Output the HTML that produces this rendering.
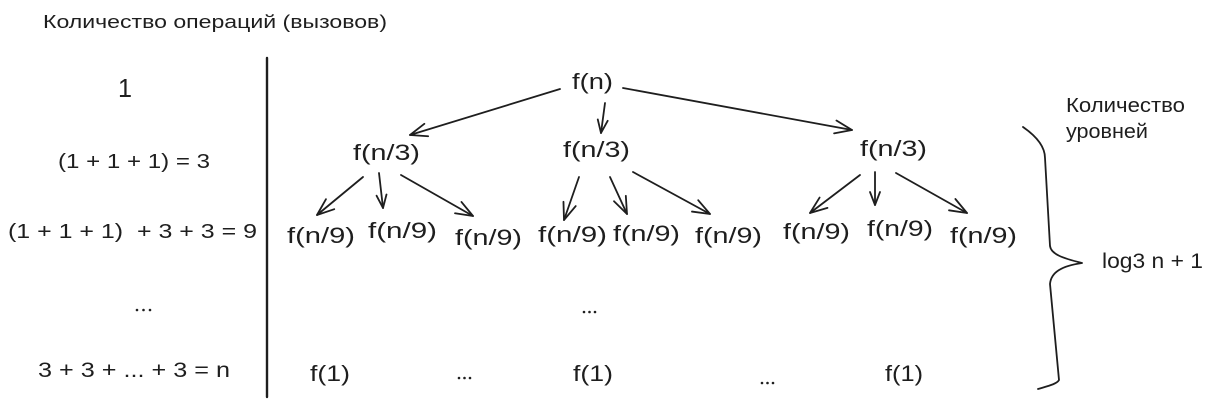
<!DOCTYPE html>
<html>
<head>
<meta charset="utf-8">
<style>
  html, body { margin: 0; padding: 0; background: #ffffff; }
  svg { display: block; }
  text { font-family: "Liberation Sans", "DejaVu Sans", sans-serif; fill: #1e1e1e; white-space: pre; }
</style>
</head>
<body>
<svg width="1213" height="404" viewBox="0 0 1213 404" xmlns="http://www.w3.org/2000/svg">
  <defs>
    <marker id="ah" markerUnits="userSpaceOnUse" markerWidth="22" markerHeight="20" viewBox="-20 -10 22 20" refX="0" refY="0" orient="auto">
      <path d="M-17,-6.5 L0,0 L-17,6.5" fill="none" stroke="#1e1e1e" stroke-width="1.8" stroke-linecap="round" stroke-linejoin="round"/>
    </marker>
    <marker id="ahs" markerUnits="userSpaceOnUse" markerWidth="22" markerHeight="20" viewBox="-20 -10 22 20" refX="0" refY="0" orient="auto">
      <path d="M-13,-5 L0,0 L-13,5" fill="none" stroke="#1e1e1e" stroke-width="1.8" stroke-linecap="round" stroke-linejoin="round"/>
    </marker>
  </defs>
  <rect width="1213" height="404" fill="#ffffff"/>

  <!-- Title -->
  <text x="43" y="28" font-size="18" textLength="344" lengthAdjust="spacingAndGlyphs">Количество операций (вызовов)</text>

  <!-- Left column -->
  <text x="118" y="97" font-size="26" textLength="14" lengthAdjust="spacingAndGlyphs">1</text>
  <text x="58" y="168" font-size="20" textLength="152" lengthAdjust="spacingAndGlyphs">(1 + 1 + 1) = 3</text>
  <text x="8" y="238" font-size="20" textLength="249" lengthAdjust="spacingAndGlyphs">(1 + 1 + 1)  + 3 + 3 = 9</text>
  <g fill="#1e1e1e">
    <circle cx="137" cy="310" r="1.3"/><circle cx="143.5" cy="310" r="1.3"/><circle cx="150" cy="310" r="1.3"/>
  </g>
  <text x="38" y="377" font-size="21" textLength="192" lengthAdjust="spacingAndGlyphs">3 + 3 + ... + 3 = n</text>

  <!-- Divider -->
  <line x1="267" y1="58" x2="267" y2="397" stroke="#1e1e1e" stroke-width="2.4" stroke-linecap="round"/>

  <!-- Tree nodes -->
  <g font-size="22">
    <text x="572" y="89" textLength="41" lengthAdjust="spacingAndGlyphs">f(n)</text>

    <text x="353" y="160" textLength="67" lengthAdjust="spacingAndGlyphs">f(n/3)</text>
    <text x="563" y="157" textLength="67" lengthAdjust="spacingAndGlyphs">f(n/3)</text>
    <text x="860" y="156" textLength="67" lengthAdjust="spacingAndGlyphs">f(n/3)</text>

    <text x="287" y="243" textLength="68" lengthAdjust="spacingAndGlyphs">f(n/9)</text>
    <text x="368" y="238" textLength="69" lengthAdjust="spacingAndGlyphs">f(n/9)</text>
    <text x="455" y="245" textLength="67" lengthAdjust="spacingAndGlyphs">f(n/9)</text>
    <text x="538" y="242" textLength="69" lengthAdjust="spacingAndGlyphs">f(n/9)</text>
    <text x="613" y="241" textLength="67" lengthAdjust="spacingAndGlyphs">f(n/9)</text>
    <text x="695" y="243" textLength="67" lengthAdjust="spacingAndGlyphs">f(n/9)</text>
    <text x="783" y="239" textLength="67" lengthAdjust="spacingAndGlyphs">f(n/9)</text>
    <text x="867" y="236" textLength="66" lengthAdjust="spacingAndGlyphs">f(n/9)</text>
    <text x="950" y="243" textLength="67" lengthAdjust="spacingAndGlyphs">f(n/9)</text>

    <text x="310" y="381" textLength="40" lengthAdjust="spacingAndGlyphs">f(1)</text>
    <text x="573" y="381" textLength="40" lengthAdjust="spacingAndGlyphs">f(1)</text>
    <text x="885" y="381" textLength="38" lengthAdjust="spacingAndGlyphs">f(1)</text>
  </g>

  <!-- Ellipses in tree -->
  <g fill="#1e1e1e">
    <circle cx="584" cy="312" r="1.3"/><circle cx="589.5" cy="312" r="1.3"/><circle cx="595" cy="312" r="1.3"/>
    <circle cx="459" cy="378" r="1.3"/><circle cx="464.5" cy="378" r="1.3"/><circle cx="470" cy="378" r="1.3"/>
    <circle cx="762" cy="383" r="1.3"/><circle cx="767.5" cy="383" r="1.3"/><circle cx="773" cy="383" r="1.3"/>
  </g>

  <!-- Arrows -->
  <g stroke="#1e1e1e" stroke-width="1.8" fill="none" stroke-linecap="round">
    <line x1="560" y1="89" x2="410" y2="135" marker-end="url(#ah)"/>
    <line x1="605" y1="103" x2="601" y2="133" marker-end="url(#ahs)"/>
    <line x1="623" y1="88" x2="852" y2="130" marker-end="url(#ah)"/>

    <line x1="363" y1="177" x2="317" y2="215" marker-end="url(#ah)"/>
    <line x1="379" y1="173" x2="383" y2="208" marker-end="url(#ahs)"/>
    <line x1="401" y1="175" x2="473" y2="216" marker-end="url(#ah)"/>

    <line x1="579" y1="177" x2="564" y2="220" marker-end="url(#ah)"/>
    <line x1="610" y1="177" x2="627" y2="214" marker-end="url(#ah)"/>
    <line x1="633" y1="172" x2="710" y2="214" marker-end="url(#ah)"/>

    <line x1="860" y1="175" x2="810" y2="213" marker-end="url(#ah)"/>
    <line x1="875" y1="172" x2="875" y2="205" marker-end="url(#ahs)"/>
    <line x1="896" y1="173" x2="967" y2="213" marker-end="url(#ah)"/>
  </g>

  <!-- Brace -->
  <path d="M1023,127 C1036,136 1045,146 1045,158 L1050,246 C1051,254 1062,258 1082,263 C1062,266 1051,272 1050,284 L1059,380 C1057,384 1048,386 1038,389"
        fill="none" stroke="#1e1e1e" stroke-width="1.8" stroke-linecap="round" stroke-linejoin="round"/>

  <!-- Right labels -->
  <text x="1066" y="112" font-size="20" textLength="119" lengthAdjust="spacingAndGlyphs">Количество</text>
  <text x="1066" y="138" font-size="20" textLength="82" lengthAdjust="spacingAndGlyphs">уровней</text>
  <text x="1102" y="268" font-size="21" textLength="101" lengthAdjust="spacingAndGlyphs">log3 n + 1</text>
</svg>
</body>
</html>
